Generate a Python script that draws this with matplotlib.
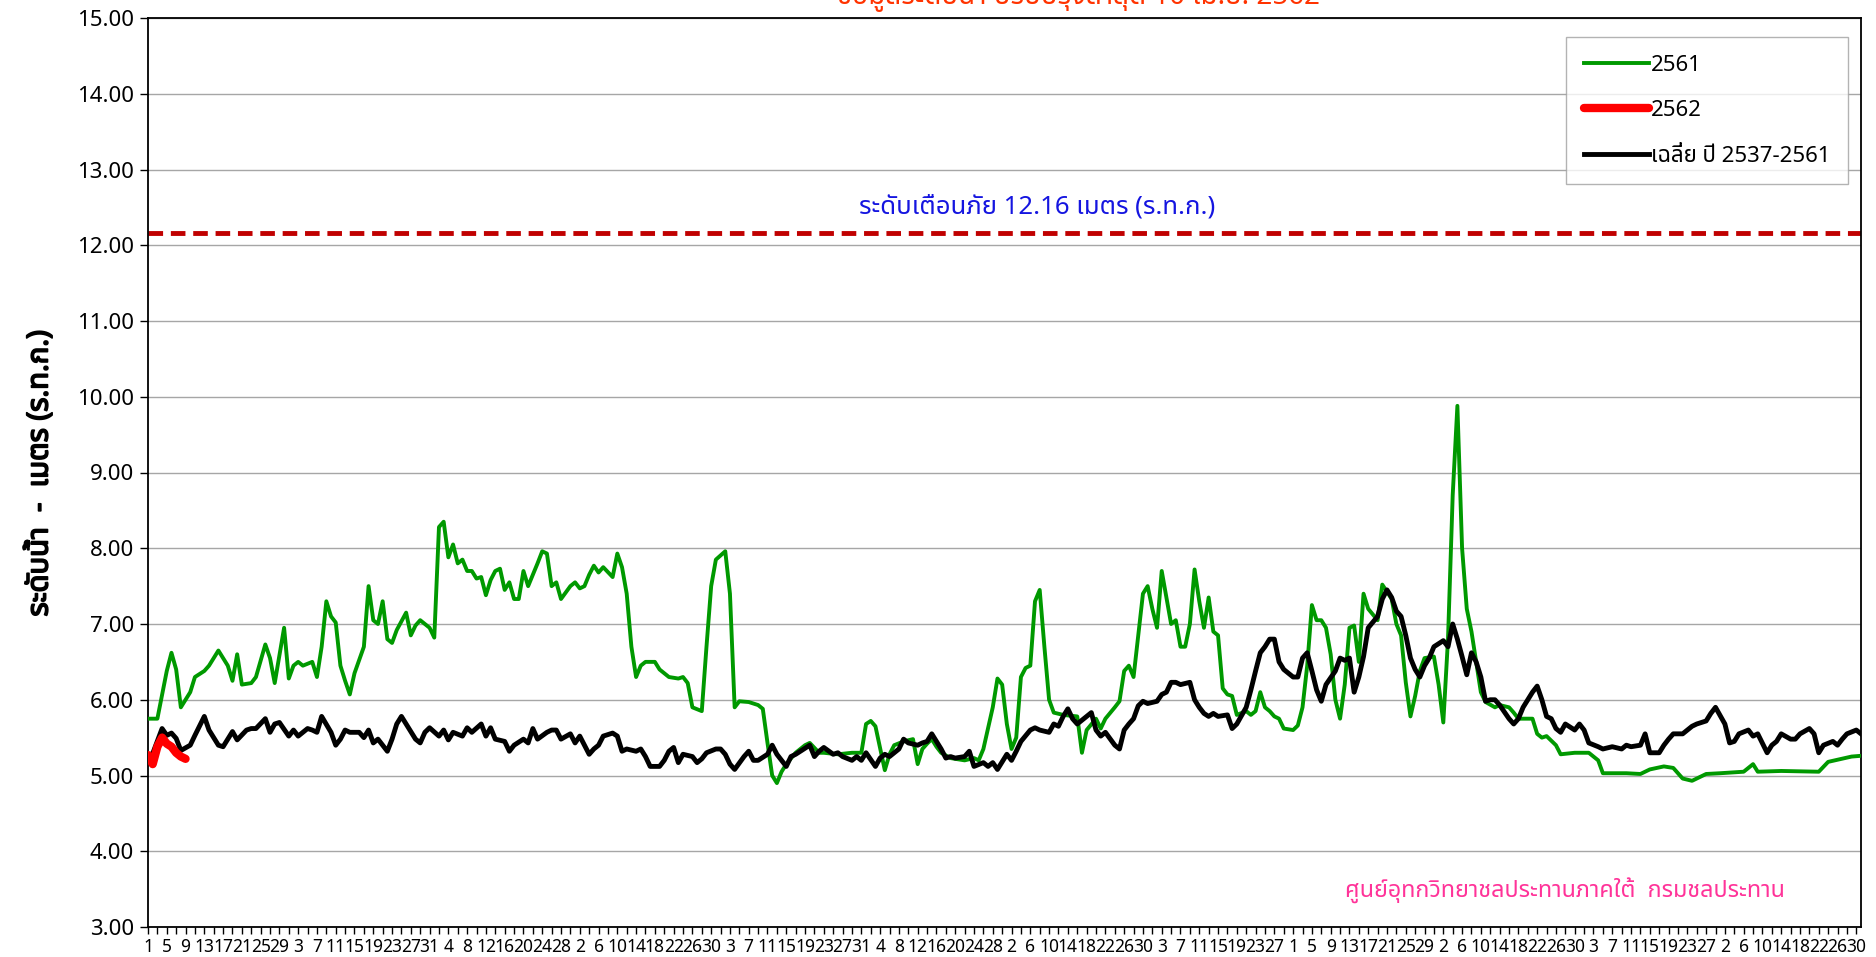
import numpy as np
import pandas as pd
import matplotlib
matplotlib.use("Agg")
import matplotlib.pyplot as plt
import matplotlib.patheffects as pe
from matplotlib import font_manager
from fontTools.ttLib import TTFont

# ---- data (day index 0 = 1 Apr, 366-day axis) ----
g_days = [0, 2, 4, 5, 6, 7, 9, 10, 12, 13, 15, 17, 18, 19, 20, 22, 23, 25, 26, 27, 29, 30, 31, 32, 33, 35, 36, 37, 38, 39,
          40, 41, 42, 43, 44, 46, 47, 48, 49, 50, 51, 52, 53, 55, 56, 57, 58, 60, 61, 62, 63, 64, 65, 66, 67, 68, 69, 70, 71, 72,
          73, 74, 75, 76, 77, 78, 79, 80, 81, 83, 84, 85, 86, 87, 88, 90, 91, 92, 93, 94, 95, 96, 97, 99, 100, 101, 102, 103, 104, 105,
          106, 108, 109, 110, 111, 113, 114, 115, 116, 118, 119, 120, 121, 123, 124, 125, 126, 128, 130, 131, 132, 133, 134, 135, 136, 138, 139, 140, 141, 143,
          144, 147, 150, 152, 153, 154, 155, 157, 158, 159, 161, 163, 164, 165, 166, 167, 168, 169, 171, 174, 176, 177, 178, 180, 181, 182, 183, 184, 185, 186,
          187, 188, 189, 190, 191, 192, 193, 195, 198, 199, 200, 202, 203, 204, 206, 207, 208, 209, 210, 211, 212, 213, 214, 215, 216, 217, 218, 219, 220, 221,
          222, 223, 224, 225, 226, 227, 228, 229, 230, 231, 232, 234, 235, 236, 237, 238, 239, 240, 241, 242, 244, 245, 246, 247, 248, 249, 250, 251, 252, 253,
          254, 255, 256, 257, 258, 259, 260, 262, 263, 265, 266, 267, 268, 269, 270, 271, 272, 274, 275, 276, 277, 278, 279, 280, 281, 282, 283, 284, 285, 287,
          288, 290, 291, 292, 295, 296, 297, 298, 300, 301, 304, 307, 309, 310, 312, 315, 318, 320, 323, 325, 327, 329, 332, 335, 340, 342, 343, 348, 356, 358,
          363, 365]
g_vals = [5.75, 5.75, 6.38, 6.62, 6.4, 5.9, 6.1, 6.3, 6.38, 6.45, 6.65, 6.45, 6.25, 6.6, 6.2, 6.22, 6.3, 6.73, 6.55, 6.22, 6.95, 6.28, 6.45, 6.5, 6.45, 6.5, 6.3, 6.7, 7.3, 7.1,
          7.02, 6.45, 6.25, 6.07, 6.35, 6.7, 7.5, 7.05, 7.0, 7.3, 6.8, 6.75, 6.92, 7.15, 6.85, 6.98, 7.05, 6.95, 6.82, 8.28, 8.35, 7.88, 8.05, 7.8, 7.85, 7.7, 7.7, 7.6, 7.62, 7.38,
          7.58, 7.7, 7.73, 7.45, 7.55, 7.33, 7.33, 7.7, 7.5, 7.8, 7.96, 7.93, 7.5, 7.55, 7.33, 7.5, 7.55, 7.47, 7.5, 7.65, 7.77, 7.68, 7.75, 7.62, 7.93, 7.75, 7.4, 6.7, 6.3, 6.45,
          6.5, 6.5, 6.4, 6.35, 6.3, 6.28, 6.3, 6.22, 5.9, 5.85, 6.7, 7.5, 7.85, 7.96, 7.4, 5.9, 5.98, 5.97, 5.93, 5.88, 5.43, 5.0, 4.9, 5.05, 5.15, 5.3, 5.35, 5.4, 5.43, 5.3,
          5.3, 5.28, 5.3, 5.3, 5.68, 5.72, 5.65, 5.07, 5.28, 5.4, 5.45, 5.48, 5.15, 5.35, 5.42, 5.48, 5.38, 5.3, 5.23, 5.2, 5.23, 5.2, 5.35, 5.9, 6.28, 6.2, 5.68, 5.35, 5.5, 6.3,
          6.42, 6.45, 7.3, 7.45, 6.7, 6.0, 5.83, 5.8, 5.78, 5.3, 5.6, 5.75, 5.62, 5.75, 5.9, 5.98, 6.38, 6.45, 6.3, 6.85, 7.4, 7.5, 7.2, 6.95, 7.7, 7.35, 7.0, 7.05, 6.7, 6.7,
          7.0, 7.72, 7.3, 6.95, 7.35, 6.9, 6.85, 6.15, 6.07, 6.05, 5.8, 5.85, 5.8, 5.85, 6.1, 5.9, 5.85, 5.78, 5.75, 5.62, 5.6, 5.66, 5.9, 6.45, 7.25, 7.05, 7.05, 6.95, 6.6, 6.0,
          5.75, 6.2, 6.95, 6.98, 6.5, 7.4, 7.2, 7.05, 7.52, 7.33, 7.0, 6.85, 6.23, 5.78, 6.05, 6.38, 6.55, 6.57, 6.2, 5.7, 6.8, 8.7, 9.88, 8.0, 7.2, 6.9, 6.5, 6.1, 5.97, 5.9,
          5.93, 5.9, 5.83, 5.75, 5.75, 5.55, 5.5, 5.52, 5.4, 5.28, 5.3, 5.3, 5.2, 5.03, 5.03, 5.03, 5.02, 5.08, 5.12, 5.1, 4.96, 4.93, 5.02, 5.03, 5.05, 5.15, 5.05, 5.06, 5.05, 5.18,
          5.25, 5.26]

b_days = [0, 1, 3, 4, 5, 6, 7, 9, 10, 12, 13, 15, 16, 18, 19, 21, 22, 23, 25, 26, 27, 28, 30, 31, 32, 34, 35, 36, 37, 39,
          40, 41, 42, 43, 45, 46, 47, 48, 49, 51, 52, 53, 54, 55, 57, 58, 59, 60, 62, 63, 64, 65, 67, 68, 69, 71, 72, 73, 74, 76,
          77, 78, 80, 81, 82, 83, 85, 86, 87, 88, 90, 91, 92, 94, 95, 96, 97, 99, 100, 101, 102, 104, 105, 106, 107, 109, 110, 111, 112, 113,
          114, 116, 117, 118, 119, 121, 122, 123, 124, 125, 127, 128, 129, 130, 132, 133, 134, 136, 137, 138, 139, 141, 142, 143, 144, 146, 147, 148, 150, 151,
          152, 153, 155, 156, 157, 158, 160, 161, 162, 164, 165, 166, 167, 169, 170, 171, 172, 174, 175, 176, 178, 179, 180, 181, 183, 184, 185, 186, 188, 189,
          190, 192, 193, 194, 195, 196, 197, 198, 200, 201, 202, 203, 204, 206, 207, 208, 209, 210, 211, 212, 213, 215, 216, 217, 218, 219, 220, 222, 223, 224,
          225, 226, 227, 228, 230, 231, 232, 234, 235, 236, 237, 238, 239, 240, 241, 242, 243, 244, 245, 246, 247, 248, 249, 250, 251, 253, 254, 255, 256, 257,
          258, 259, 260, 262, 263, 264, 265, 266, 267, 268, 269, 270, 271, 272, 273, 274, 276, 277, 278, 279, 280, 281, 282, 283, 284, 285, 286, 287, 288, 290,
          291, 292, 293, 295, 296, 297, 298, 299, 300, 301, 302, 304, 305, 306, 307, 309, 310, 312, 314, 315, 316, 318, 319, 320, 322, 323, 324, 325, 327, 328,
          329, 330, 332, 333, 334, 336, 337, 338, 339, 341, 342, 343, 345, 346, 347, 348, 350, 351, 352, 354, 355, 356, 357, 359, 360, 361, 362, 364, 365]
b_vals = [5.27, 5.29, 5.62, 5.53, 5.56, 5.49, 5.33, 5.4, 5.53, 5.78, 5.6, 5.4, 5.38, 5.58, 5.47, 5.6, 5.62, 5.62, 5.75, 5.57, 5.68, 5.7, 5.52, 5.6, 5.52, 5.62, 5.6, 5.57, 5.78, 5.57,
          5.4, 5.48, 5.6, 5.57, 5.57, 5.5, 5.6, 5.43, 5.48, 5.32, 5.48, 5.68, 5.78, 5.68, 5.48, 5.43, 5.57, 5.63, 5.52, 5.6, 5.47, 5.57, 5.52, 5.63, 5.57, 5.68, 5.52, 5.63, 5.48, 5.45,
          5.32, 5.4, 5.48, 5.43, 5.62, 5.48, 5.57, 5.6, 5.6, 5.48, 5.55, 5.43, 5.52, 5.28, 5.35, 5.4, 5.52, 5.56, 5.52, 5.32, 5.35, 5.32, 5.35, 5.25, 5.12, 5.12, 5.2, 5.32, 5.37, 5.17,
          5.28, 5.25, 5.17, 5.22, 5.3, 5.35, 5.35, 5.28, 5.15, 5.08, 5.25, 5.32, 5.2, 5.2, 5.28, 5.4, 5.28, 5.12, 5.25, 5.28, 5.32, 5.4, 5.25, 5.32, 5.37, 5.28, 5.3, 5.25, 5.2, 5.25,
          5.2, 5.3, 5.12, 5.23, 5.28, 5.25, 5.35, 5.48, 5.43, 5.4, 5.43, 5.45, 5.55, 5.35, 5.23, 5.25, 5.23, 5.25, 5.32, 5.12, 5.17, 5.12, 5.17, 5.08, 5.28, 5.2, 5.32, 5.45, 5.6, 5.63,
          5.6, 5.57, 5.68, 5.65, 5.78, 5.88, 5.75, 5.68, 5.78, 5.83, 5.6, 5.52, 5.57, 5.4, 5.35, 5.6, 5.68, 5.75, 5.92, 5.98, 5.95, 5.98, 6.07, 6.1, 6.23, 6.23, 6.2, 6.23, 6.0, 5.9,
          5.82, 5.78, 5.82, 5.78, 5.8, 5.62, 5.68, 5.9, 6.13, 6.38, 6.62, 6.7, 6.8, 6.8, 6.5, 6.4, 6.35, 6.3, 6.3, 6.55, 6.62, 6.38, 6.13, 5.98, 6.2, 6.38, 6.55, 6.52, 6.55, 6.1,
          6.3, 6.57, 6.95, 7.1, 7.33, 7.45, 7.35, 7.17, 7.1, 6.85, 6.55, 6.4, 6.3, 6.45, 6.55, 6.7, 6.78, 6.7, 7.0, 6.8, 6.57, 6.33, 6.62, 6.5, 6.3, 5.98, 6.0, 6.0, 5.93, 5.75,
          5.68, 5.75, 5.9, 6.1, 6.18, 6.0, 5.78, 5.75, 5.62, 5.57, 5.68, 5.6, 5.68, 5.6, 5.43, 5.38, 5.35, 5.38, 5.35, 5.4, 5.38, 5.4, 5.55, 5.3, 5.3, 5.4, 5.48, 5.55, 5.55, 5.6,
          5.65, 5.68, 5.72, 5.82, 5.9, 5.68, 5.43, 5.45, 5.55, 5.6, 5.52, 5.55, 5.3, 5.4, 5.45, 5.55, 5.48, 5.48, 5.55, 5.62, 5.55, 5.3, 5.4, 5.45, 5.4, 5.48, 5.55, 5.6, 5.55]

r_days = [0, 1, 2, 3, 4, 5, 6, 7, 8]
r_vals = [5.27, 5.15, 5.38, 5.5, 5.42, 5.38, 5.3, 5.25, 5.22]

warn_level = 12.16
series_names = ["2561", "2562", "เฉลี่ย ปี 2537-2561"]
axis_dates = pd.date_range("2019-04-01", "2020-03-31", freq="D")


def thai_font():
    prefer = ["Tahoma", "Leelawadee UI", "Noto Sans Thai", "Noto Sans Thai UI", "Loma", "Garuda",
              "Norasi", "Sarabun", "Kinnari", "Waree"]
    found = []
    for f in font_manager.fontManager.ttflist:
        if f.name in found:
            continue
        try:
            tt = TTFont(f.fname, fontNumber=0, lazy=True)
            cmap = tt.getBestCmap()
            if cmap and 0x0E23 in cmap and 0x0E1A in cmap:
                found.append(f.name)
        except Exception:
            pass
    for p in prefer:
        if p in found:
            return p
    return found[0] if found else None


tf = thai_font()
fams = ([tf] if tf else []) + ["DejaVu Sans"]
plt.rcParams["font.family"] = fams

fig = plt.figure(figsize=(18.76, 9.57), dpi=100)
ax = fig.add_axes([148 / 1876, 1 - 927 / 957, (1861 - 148) / 1876, (927 - 18) / 957])

ax.plot(g_days, g_vals, color="#009900", lw=2.8, label=series_names[0], zorder=3)
ax.plot(r_days, r_vals, color="#FF0000", lw=6, solid_capstyle="round", solid_joinstyle="round",
        label=series_names[1], zorder=5)
ax.plot(b_days, b_vals, color="black", lw=3.5, label=series_names[2], zorder=4)
ax.axhline(warn_level, color="#C00000", lw=3.5, ls=(0, (3, 1.6)), zorder=2)

ax.set_xlim(0, 365)
ax.set_ylim(3, 15)
ax.set_yticks(np.arange(3, 16, 1))
ax.set_yticklabels([f"{v:.2f}" for v in np.arange(3, 16, 1)], fontsize=16)
ax.yaxis.grid(True, color="#A6A6A6", lw=1)
ax.set_axisbelow(True)

xt = list(range(0, 366, 2))
ax.set_xticks(xt)
ax.set_xticklabels([str(axis_dates[d].day) if d % 4 == 0 else "" for d in xt], fontsize=12.5)
ax.tick_params(axis="x", length=5, width=1, pad=3)
ax.tick_params(axis="y", length=6, width=1, pad=4)
for s in ax.spines.values():
    s.set_linewidth(1.3)

ax.text(189.5, 12.5, "ระดับเตือนภัย 12.16 เมตร (ร.ท.ก.)", color="#1515E0", fontsize=18.5,
        ha="center", va="center")
ax.text(302, 3.47, "ศูนย์อุทกวิทยาชลประทานภาคใต้  กรมชลประทาน", color="#FF3399", fontsize=16.8,
        ha="center", va="center")

# label is bold in the original, thicken it with a stroke
fig.text(40 / 1876, 1 - 473 / 957, "ระดับน้ำ  -  เมตร (ร.ท.ก.)", rotation=90, fontsize=21,
         fontweight="bold", ha="center", va="center",
         path_effects=[pe.withStroke(linewidth=1.2, foreground="black")])
fig.text(1078 / 1876, 1 - 4 / 957, "ข้อมูลระดับน้ำ ปรับปรุงล่าสุด 10 เม.ย. 2562", color="#FF3300",
         fontsize=20, fontweight="bold", ha="center", va="baseline")

leg = ax.legend(loc="upper right", bbox_to_anchor=(1848 / 1876, 1 - 37 / 957),
                bbox_transform=fig.transFigure, fontsize=16, frameon=True, fancybox=False,
                edgecolor="#A0A0A0", labelspacing=1.1, handlelength=2.9, handletextpad=0.1,
                borderpad=0.8, borderaxespad=0)
leg.get_frame().set_linewidth(1)

fig.savefig("out.png", dpi=100)
